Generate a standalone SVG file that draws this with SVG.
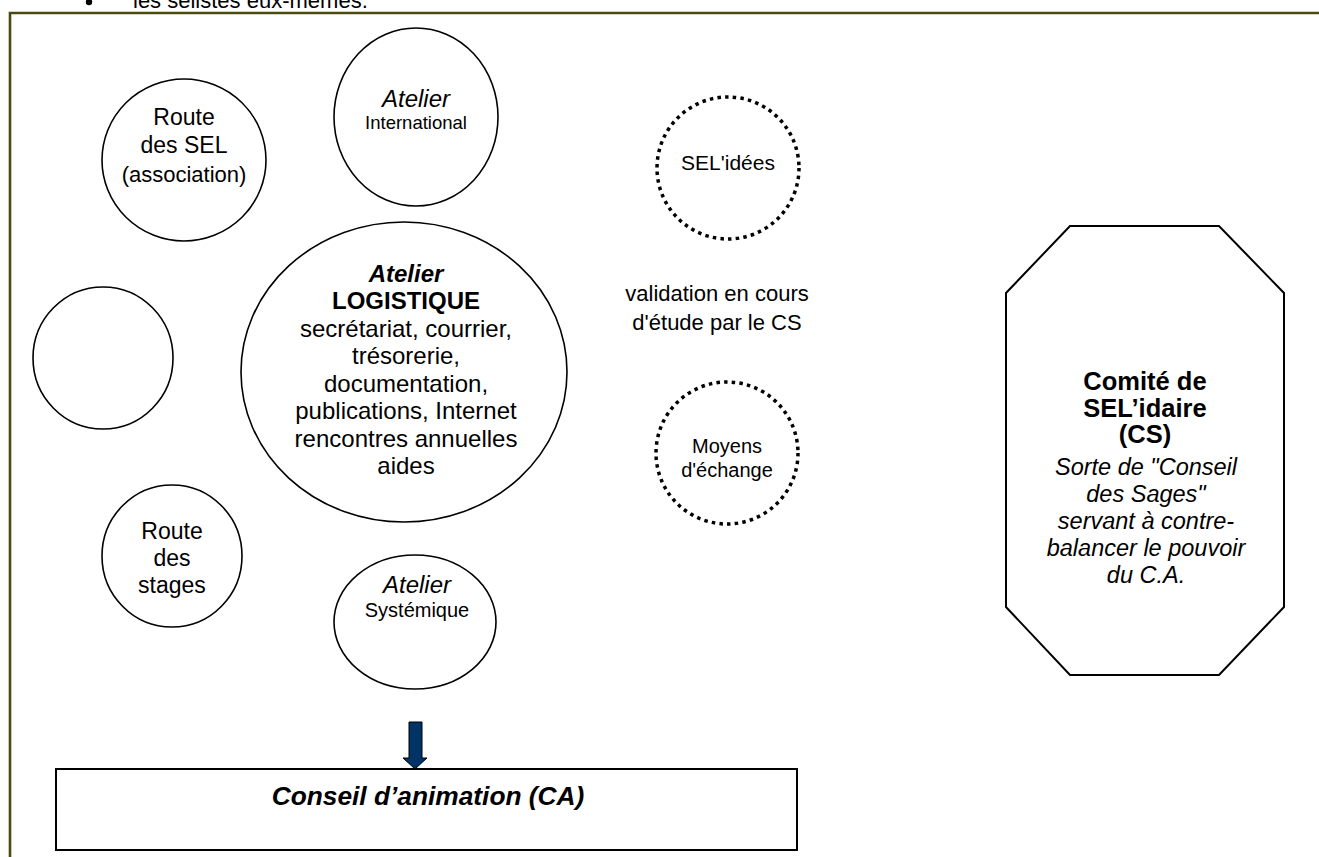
<svg xmlns="http://www.w3.org/2000/svg" width="1319" height="857" viewBox="0 0 1319 857">
<style>
text{font-family:"Liberation Sans",Arial,sans-serif;fill:#000;text-anchor:middle}
.c{fill:#fff;stroke:#000;stroke-width:1.6}
.d{fill:none;stroke:#000;stroke-width:3.5;stroke-dasharray:3.5 4.2}
.b{font-weight:bold}
.i{font-style:italic}
</style>
<rect x="0" y="0" width="1319" height="857" fill="#fff"/>
<g id="header">
<circle cx="89" cy="2" r="3.2" fill="#000"/>
<text x="133" y="8" font-size="22" style="text-anchor:start">les selistes eux-mêmes.</text>
</g>
<g id="frame">
<path d="M1319 13 H10 V857" fill="none" stroke="#4b4b10" stroke-width="2.6"/>
</g>
<g id="route-sel">
<ellipse class="c" cx="184" cy="160" rx="82" ry="81"/>
<text x="184" y="125" font-size="23">Route</text>
<text x="184" y="153" font-size="23">des SEL</text>
<text x="184" y="182" font-size="22">(association)</text>
</g>
<g id="atelier-international">
<ellipse class="c" cx="416" cy="117" rx="82" ry="89"/>
<text x="416" y="107" font-size="24" class="i">Atelier</text>
<text x="416" y="129" font-size="18.5">International</text>
</g>
<g id="sel-idees">
<circle class="d" cx="728" cy="168" r="71"/>
<text x="728" y="170" font-size="21">SEL'idées</text>
</g>
<g id="validation">
<text x="717" y="301" font-size="22">validation en cours</text>
<text x="717" y="330" font-size="22">d'étude par le CS</text>
</g>
<g id="atelier-logistique">
<ellipse class="c" cx="404" cy="372" rx="163" ry="150"/>
<text x="406" y="282" font-size="24" class="b i">Atelier</text>
<text x="406" y="309" font-size="24" class="b">LOGISTIQUE</text>
<text x="406" y="337" font-size="24">secrétariat, courrier,</text>
<text x="406" y="364" font-size="24">trésorerie,</text>
<text x="406" y="392" font-size="24">documentation,</text>
<text x="406" y="419" font-size="24">publications, Internet</text>
<text x="406" y="447" font-size="24">rencontres annuelles</text>
<text x="406" y="474" font-size="24">aides</text>
</g>
<g id="cercle-vide">
<ellipse class="c" cx="103" cy="358" rx="70" ry="71"/>
</g>
<g id="moyens-echange">
<circle class="d" cx="727" cy="453" r="71"/>
<text x="727" y="453" font-size="20">Moyens</text>
<text x="727" y="477" font-size="20">d'échange</text>
</g>
<g id="route-stages">
<ellipse class="c" cx="172" cy="556" rx="70" ry="71"/>
<text x="172" y="539" font-size="23">Route</text>
<text x="172" y="566" font-size="23">des</text>
<text x="172" y="593" font-size="23">stages</text>
</g>
<g id="atelier-systemique">
<ellipse class="c" cx="415" cy="622" rx="81" ry="67"/>
<text x="417" y="593" font-size="24" class="i">Atelier</text>
<text x="417" y="617" font-size="20">Systémique</text>
</g>
<g id="comite-selidaire">
<polygon points="1070,226 1219,226 1284,293 1284,607 1219,675 1070,675 1006,607 1006,293" fill="#fff" stroke="#000" stroke-width="2"/>
<text x="1145" y="390" font-size="25.5" class="b">Comité de</text>
<text x="1145" y="417" font-size="25.5" class="b">SEL’idaire</text>
<text x="1145" y="443" font-size="25.5" class="b">(CS)</text>
<text x="1146" y="475" font-size="23.5" class="i">Sorte de "Conseil</text>
<text x="1146" y="502" font-size="23.5" class="i">des Sages"</text>
<text x="1146" y="529" font-size="23.5" class="i">servant à contre-</text>
<text x="1146" y="556" font-size="23.5" class="i">balancer le pouvoir</text>
<text x="1146" y="583" font-size="23.5" class="i">du C.A.</text>
</g>
<g id="conseil-animation">
<rect x="56" y="769" width="741" height="81" fill="#fff" stroke="#000" stroke-width="2"/>
<text x="428" y="805" font-size="26.3" class="b i">Conseil d’animation (CA)</text>
</g>
<g id="connectors">
<path d="M409 722 H422 V758 H427 L415 769 L403 758 H409 Z" fill="#003366" stroke="#000" stroke-width="1"/>
</g>
</svg>
